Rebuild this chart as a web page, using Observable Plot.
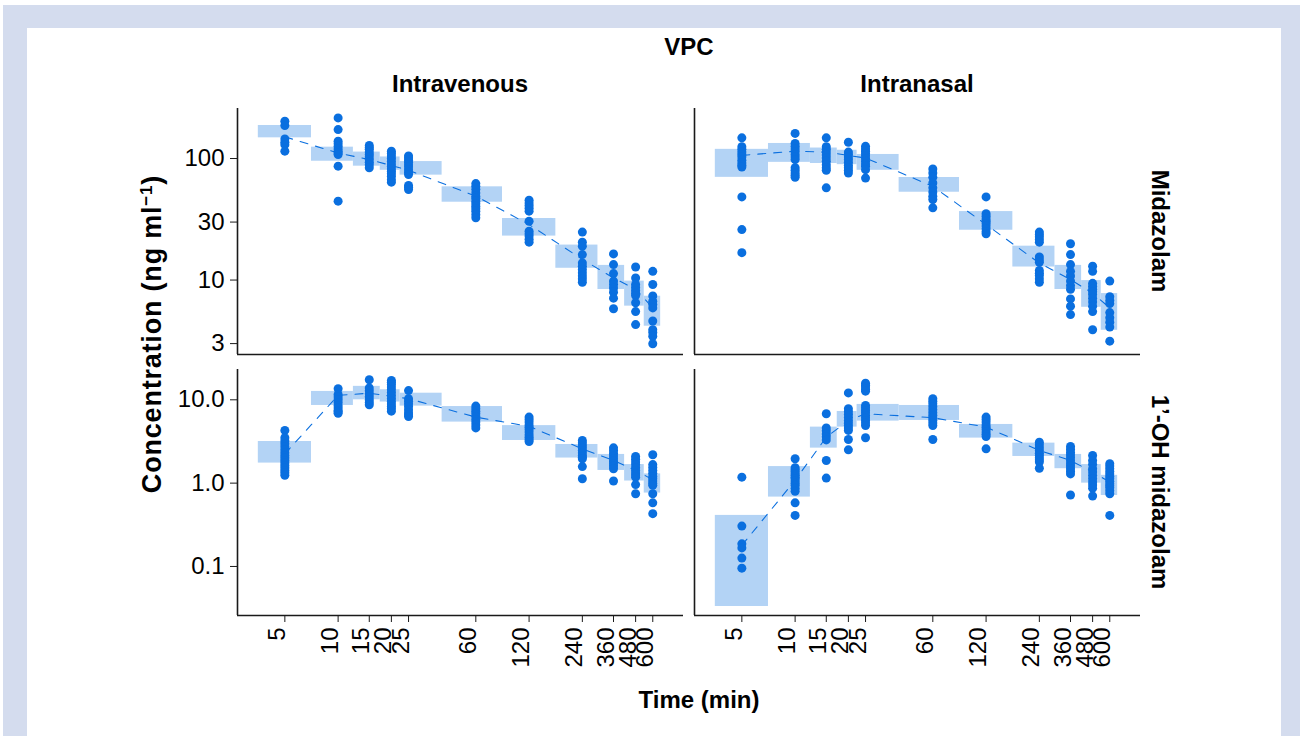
<!DOCTYPE html>
<html><head><meta charset="utf-8">
<script src="https://cdn.jsdelivr.net/npm/d3@7"></script>
<script src="https://cdn.jsdelivr.net/npm/@observablehq/plot@0.6"></script>
<style>
html,body{margin:0;padding:0;background:#fff;}
#frame{position:absolute;left:3px;top:5px;width:1297px;height:731px;background:#d4dcee;}
#page{position:absolute;left:27px;top:28px;width:1254px;height:708px;background:#fff;}
#root{position:absolute;left:0;top:0;width:1300px;height:736px;font-family:"Liberation Sans",Arial,Helvetica,sans-serif;color:#000;}
.lbl{position:absolute;font-weight:bold;font-size:24px;white-space:nowrap;line-height:1;}
.panel{position:absolute;}
</style></head><body>
<div id="frame"></div><div id="page"></div>
<div id="root"></div>
<script>
// ---- data ----
const times = [5, 10, 15, 20, 25, 60, 120, 240, 360, 480, 600];
const timeLabels = ["5", "10", "15", "20", "25", "60", "120", "240", "360", "480", "600"];
const binLo = [3.54, 7.07, 12.2, 17.3, 22.4, 38.7, 84.9, 170, 294, 416, 537];
const binHi = [7.07, 12.2, 17.3, 22.4, 38.7, 84.9, 170, 294, 416, 537, 665];
const routes = ["Intravenous", "Intranasal"];
const analytes = ["Midazolam", "1\u2019-OH midazolam"];
const midTicks = [3, 10, 30, 100];
const midTickLabels = ["3", "10", "30", "100"];
const ohTicks = [0.1, 1, 10];
const ohTickLabels = ["0.1", "1.0", "10.0"];

// Intravenous, Midazolam (observed)
const ivMidObs = [
  [203, 187, 145, 136, 130, 115],
  [216, 173, 139, 132, 126, 120, 115, 111, 108, 86.5, 44.6],
  [128, 123, 119, 113, 108, 103, 98, 93, 89, 84],
  [115, 110, 105, 100, 95, 90, 86.5, 82, 78.7, 75, 71.6, 67, 63.9],
  [105, 101, 97, 93, 89, 85, 81, 77, 73.8, 60, 58, 55.6],
  [62.2, 59, 55.6, 52, 49, 47, 44.6, 42.5, 40.5, 38.7, 36.9, 34.5, 32.5],
  [45.4, 43, 41, 39, 36.9, 30.5, 25.2, 24, 23, 21.7, 20.5],
  [24.8, 20.5, 19, 16.2, 13.8, 13, 12.2, 11.5, 10.8, 10.2, 9.6],
  [16.4, 13.4, 11.3, 9.8, 9.2, 8.6, 7.95, 7.1, 5.8],
  [12.8, 10.4, 9.2, 8.7, 8.2, 7.8, 7.45, 6.5, 5.5, 4.3],
  [11.8, 9.2, 7.4, 6.7, 6.3, 5.9, 4.6, 3.9, 3.7, 3.45, 2.99]
];
const ivMidLo = [148, 95, 86.5, 80, 73, 43.7, 23, 12.5, 8.36, 6.1, 4.17];
const ivMidHi = [187, 124, 113, 103, 94.4, 58.5, 32.1, 19.4, 13.2, 9.8, 7.36];
const ivMidMed = [151, 111, 98, 87.6, 80, 49, 28.6, 14.8, 10.4, 8.4, 5.9];

// Intranasal, Midazolam (observed)
const inMidObs = [
  [148, 125, 119, 113, 108, 103, 97, 92, 88, 85, 48.3, 26, 16.8],
  [161, 133, 126, 120, 114, 108, 103, 98, 84, 80, 76, 73, 70],
  [148, 125, 119, 113, 107, 101, 95, 89, 84, 80, 57.4],
  [136, 113, 108, 103, 98, 93, 88, 84, 80, 76],
  [126, 120, 115, 110, 105, 100, 95, 90, 86.5, 81, 69],
  [82, 76, 70, 63, 57.4, 53, 49, 46, 39.3],
  [48.3, 35.2, 33.5, 31.8, 30.5, 29.2, 27.8, 26.4, 25, 24],
  [24.8, 23.7, 22.7, 21.6, 20.5, 15.5, 14.7, 14, 12, 11.4, 10.9, 10.2, 9.6],
  [19.9, 16.2, 13.4, 11.8, 10.8, 9.8, 9, 8.4, 7, 6.1, 5.2],
  [13, 11.8, 9.4, 8.9, 8.4, 8, 7.6, 7.1, 6.6, 6.1, 5.5, 3.9],
  [9.8, 7.3, 6.8, 6.4, 5.4, 4.9, 4.5, 4.1, 3.14]
];
const inMidLo = [70, 93, 91, 89, 80, 52.8, 25.7, 12.8, 8.36, 5.97, 3.86];
const inMidHi = [119, 133, 122, 117, 108, 69.8, 36.6, 19, 13.2, 9.9, 7.74];
const inMidMed = [106, 115, 113, 106, 101, 59, 28.6, 13.8, 10.1, 7.8, 5.9];

// Intravenous, 1'-OH midazolam (observed)
const ivOhObs = [
  [4.29, 3.5, 3.2, 2.97, 2.74, 2.51, 2.32, 2.15, 2.0, 1.87, 1.75, 1.63, 1.52, 1.42, 1.33, 1.24],
  [13.6, 11.6, 10.8, 10, 9.3, 8.55, 8, 7.45, 7.2, 6.9],
  [17.4, 13.9, 12.8, 11.8, 10.9, 10, 9.3, 8.7],
  [17.1, 16.2, 15.3, 14.2, 13.2, 12.2, 11.3, 10.4, 9.6, 8.9, 8.3, 7.8, 7.3],
  [12.9, 10.3, 9.6, 8.95, 8.3, 7.6, 7, 6.6, 6.3],
  [8.4, 7.8, 7.3, 6.8, 6.3, 5.8, 5.4, 5, 4.6],
  [6.2, 5.8, 5.4, 5, 4.7, 4.4, 4.1, 3.8, 3.56, 3.35, 3.16],
  [3.25, 3.04, 2.83, 2.64, 2.47, 2.3, 2.15, 2.05, 1.96, 1.58, 1.13],
  [2.65, 2.47, 2.29, 2.12, 1.96, 1.83, 1.71, 1.6, 1.49, 1.06],
  [2.09, 1.94, 1.79, 1.66, 1.53, 1.42, 1.32, 1.25, 1.18, 0.96, 0.745],
  [2.19, 1.67, 1.54, 1.42, 1.31, 1.2, 1.13, 1.06, 1.0, 0.94, 0.745, 0.58, 0.43]
];
const ivOhLo = [1.74, 8.55, 10, 9.4, 8.4, 5.4, 3.25, 2.0, 1.42, 1.06, 0.76];
const ivOhHi = [3.16, 12.6, 14.5, 13.2, 12, 8.3, 4.9, 2.91, 2.21, 1.67, 1.29];
const ivOhMed = [2.25, 11.3, 12, 11, 10.3, 6.2, 4.8, 2.58, 1.87, 1.42, 1.1];

// Intranasal, 1'-OH midazolam (observed)
const inOhObs = [
  [1.18, 0.305, 0.187, 0.167, 0.126, 0.0955],
  [1.96, 1.53, 1.45, 1.38, 1.3, 1.24, 1.18, 1.13, 1.06, 1.0, 0.94, 0.87, 0.8, 0.58, 0.41],
  [6.8, 4.6, 4.25, 3.9, 3.6, 3.3, 1.87, 1.15],
  [12.1, 7.8, 7.2, 6.67, 6.15, 5.65, 5.25, 4.9, 4.6, 4.29, 3.34, 2.51],
  [15.8, 15, 14.2, 13.4, 12.7, 8.55, 8, 7.45, 7, 6.5, 6.05, 5.65, 5.25, 4.9, 3.5],
  [10.3, 9.6, 8.95, 8.25, 7.6, 7, 6.5, 6.05, 5.65, 5.25, 4.9, 3.34],
  [6.2, 5.8, 5.4, 5, 4.7, 4.4, 4.1, 3.85, 3.63, 2.58],
  [3.1, 2.87, 2.65, 2.47, 2.29, 2.15, 2.01, 1.9, 1.79, 1.51],
  [2.75, 2.55, 2.35, 2.18, 2.01, 1.86, 1.71, 1.6, 1.49, 1.39, 1.29, 0.72],
  [2.15, 1.87, 1.68, 1.49, 1.36, 1.24, 1.13, 1.03, 0.95, 0.87, 0.70],
  [1.71, 1.6, 1.49, 1.38, 1.29, 1.2, 1.13, 1.05, 0.98, 0.93, 0.88, 0.81, 0.745, 0.41]
];
const inOhLo = [0.0331, 0.68, 2.63, 4.7, 5.55, 5.65, 3.47, 2.09, 1.49, 1.0, 0.71];
const inOhHi = [0.41, 1.58, 4.7, 7.24, 8.8, 8.55, 5.06, 3.02, 2.21, 1.67, 1.24];
const inOhMed = [0.179, 1.08, 3.56, 5.65, 6.8, 6.1, 4.7, 2.47, 1.87, 1.36, 1.03];

// ---- scales / style ----
const xDomain = [2.7, 895];
const midDomain = [2.44, 258];
const ohDomain = [0.0258, 23.1];
const DOT = "#0a6fdf";
const PI_FILL = "#b3d3f5";
const AXIS = "#1a1a1a";
const FONT = '"Liberation Sans", Arial, Helvetica, sans-serif';
const TICK_FONT = 24;

const root = document.getElementById("root");

function panel(o) {
  const rows = [];
  times.forEach((t, i) => o.obs[i].forEach(v => rows.push({t, v})));
  const bins = times.map((t, i) => ({x1: binLo[i], x2: binHi[i], y1: o.lo[i], y2: o.hi[i]}));
  const meds = times.map((t, i) => ({t, v: o.med[i]}));
  const marks = [
    Plot.rect(bins, {x1: "x1", x2: "x2", y1: "y1", y2: "y2", fill: PI_FILL}),
    Plot.line(meds, {x: "t", y: "v", stroke: DOT, strokeWidth: 1.1, strokeDasharray: "8,8"}),
    Plot.dot(rows, {x: "t", y: "v", r: 4.5, fill: DOT, stroke: "none"}),
    Plot.ruleX([o.xd[0]], {stroke: AXIS, strokeWidth: 1.6}),
    Plot.ruleY([o.yd[0]], {stroke: AXIS, strokeWidth: 1.6})
  ];
  if (o.yTicks) {
    marks.push(Plot.axisY(o.yTicks, {tickSize: 7, tickFormat: () => "", label: null, stroke: AXIS}));
    marks.push(Plot.text(o.yTicks, {
      y: d => d, text: d => o.yLabels[o.yTicks.indexOf(d)],
      frameAnchor: "left", textAnchor: "end", dx: -13, fontSize: TICK_FONT, fill: "#000"
    }));
  }
  if (o.showX) {
    marks.push(Plot.axisX(times, {tickSize: 7, tickFormat: () => "", label: null, stroke: AXIS}));
    marks.push(Plot.text(times, {
      x: d => d, text: d => timeLabels[times.indexOf(d)],
      frameAnchor: "bottom", rotate: -90, textAnchor: "end", dy: 12, fontSize: TICK_FONT, fill: "#000"
    }));
  }
  const svg = Plot.plot({
    width: o.ml + 446 + o.mr,
    height: o.mt + 246 + o.mb,
    marginLeft: o.ml, marginRight: o.mr, marginTop: o.mt, marginBottom: o.mb,
    x: Object.assign({type: "log", domain: o.xd}, o.showX ? {} : {axis: null}),
    y: Object.assign({type: "log", domain: o.yd}, o.yTicks ? {} : {axis: null}),
    style: {background: "transparent", overflow: "visible", fontSize: TICK_FONT + "px", fontFamily: FONT, color: "#000"},
    marks
  });
  svg.classList.add("panel");
  svg.style.position = "absolute";
  svg.style.left = o.left + "px";
  svg.style.top = o.top + "px";
  root.appendChild(svg);
}

panel({obs: ivMidObs, lo: ivMidLo, hi: ivMidHi, med: ivMidMed, xd: xDomain, yd: midDomain,
  yTicks: midTicks, yLabels: midTickLabels, showX: false, left: 177, top: 98, ml: 60, mr: 2, mt: 10, mb: 2});
panel({obs: inMidObs, lo: inMidLo, hi: inMidHi, med: inMidMed, xd: xDomain, yd: midDomain,
  yTicks: null, showX: false, left: 692, top: 98, ml: 2, mr: 10, mt: 10, mb: 2});
panel({obs: ivOhObs, lo: ivOhLo, hi: ivOhHi, med: ivOhMed, xd: xDomain, yd: ohDomain,
  yTicks: ohTicks, yLabels: ohTickLabels, showX: true, left: 177, top: 359, ml: 60, mr: 2, mt: 10, mb: 100});
panel({obs: inOhObs, lo: inOhLo, hi: inOhHi, med: inOhMed, xd: xDomain, yd: ohDomain,
  yTicks: null, showX: true, left: 692, top: 359, ml: 2, mr: 10, mt: 10, mb: 100});

function label(html, cx, cy, rot, extra) {
  const d = document.createElement("div");
  d.className = "lbl";
  d.innerHTML = html;
  d.style.left = cx + "px";
  d.style.top = cy + "px";
  d.style.transform = "translate(-50%,-50%)" + (rot ? ` rotate(${rot}deg)` : "");
  if (extra) Object.assign(d.style, extra);
  root.appendChild(d);
}
label("VPC", 689, 47);
label(routes[0], 460, 84);
label(routes[1], 917, 84);
label(analytes[0], 1160, 231, 90);
label(analytes[1], 1160, 492, 90);
label('Concentration (ng ml<sup style="font-size:17px;vertical-align:9px">\u22121</sup>)', 152, 334, -90,
  {fontSize: "27px", letterSpacing: "0.8px"});
label("Time (min)", 699, 700);
</script></body></html>
